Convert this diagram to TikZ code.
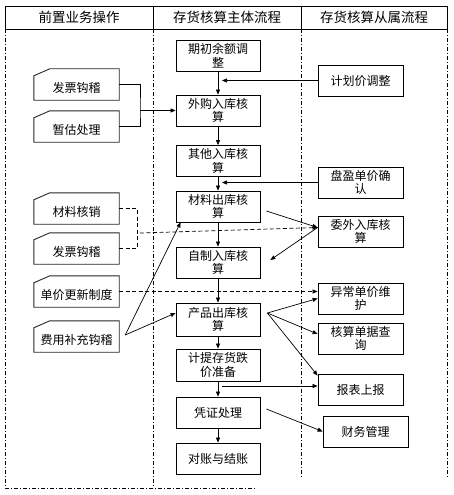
\documentclass[tikz,border=0pt]{standalone}
\usepackage{fontspec}
\setmainfont{Noto Sans CJK SC}
\usetikzlibrary{arrows.meta,calc}
\newcommand{\lowr}[1]{\raisebox{-3pt}[\height][\depth]{#1}}
\begin{document}
\begin{tikzpicture}[x=1pt,y=-1pt,
  box/.style={draw,line width=0.8pt,minimum width=84pt,minimum height=31pt,inner sep=1pt,align=center,font=\fontsize{12}{13.5}\selectfont},
  card/.style={minimum width=85pt,minimum height=31pt,inner sep=1pt,font=\fontsize{12}{13.5}\selectfont},
  hdr/.style={font=\fontsize{13.5}{15}\selectfont},
  arr/.style={line width=0.7pt,-{Triangle[length=5pt,width=4pt]}},
  ln/.style={line width=0.7pt},
  dsh/.style={line width=0.7pt,dash pattern=on 4pt off 2.5pt},
  frm/.style={line width=0.7pt,dash pattern=on 4pt off 2pt on 1pt off 2pt}]
\useasboundingbox (0,0) rectangle (453,495);
% header
\draw[line width=0.8pt] (5,6) rectangle (447,29);
\draw[line width=0.8pt] (153,6) -- (153,29) (301,6) -- (301,29);
\node[hdr] (h1) at (79,17.5) {前置业务操作};
\node[hdr] (h2) at (227,17.5) {存货核算主体流程};
\node[hdr] (h3) at (374,17.5) {存货核算从属流程};
% frame
\draw[frm] (5,29) -- (5,488) -- (255,488);
\draw[frm] (153,29) -- (153,488);
\draw[frm] (301,29) -- (301,478);
\draw[frm] (447,29) -- (447,478);
% middle column
\node[box] (qc) at (218,55.5) {期初余额调\\整};
\node[box] (wg) at (218,110.5) {外购入库核\\算};
\node[box] (qt) at (218,161) {其他入库核\\算};
\node[box] (clck) at (218,206.5) {材料出库核\\算};
\node[box] (zz) at (218,262.5) {自制入库核\\算};
\node[box,minimum height=33pt] (cpck) at (218,319.5) {产品出库核\\算};
\node[box,minimum height=32pt] (jt) at (218,365) {计提存货跌\\价准备};
\node[box] (pz) at (218,412.5) {凭证处理};
\node[box] (dz) at (218,458.5) {对账与结账};
% right column
\node[box,minimum width=85pt] (jhj) at (360.5,80.5) {计划价调整};
\node[box,minimum width=85pt] (py) at (360.5,182.5) {盘盈单价确\\认};
\node[box,minimum width=85pt] (ww) at (360.5,231.5) {委外入库核\\算};
\node[box,minimum width=85pt] (yc) at (360.5,298.5) {异常单价维\\护};
\node[box,minimum width=85pt] (hs) at (360.5,338.5) {核算单据查\\询};
\node[box,minimum width=85pt] (bb) at (360.5,389.5) {报表上报};
\node[box,minimum width=85pt] (cw) at (365.5,431.5) {财务管理};
% left column cards
\node[card] (fp1) at (76.5,84.5) {\lowr{发票钩稽}};
\node[card] (zg) at (76.5,126.5) {\lowr{暂估处理}};
\node[card] (clhx) at (76.5,208.5) {\lowr{材料核销}};
\node[card] (fp2) at (76.5,248.5) {\lowr{发票钩稽}};
\node[card] (djgx) at (76.5,291.5) {\lowr{单价更新制度}};
\node[card] (fybc) at (76.5,336.5) {\lowr{费用补充钩稽}};
\foreach \n in {fp1,zg,clhx,fp2,djgx,fybc}{
  \draw[line width=0.9pt,black!85] ([yshift=-7pt]\n.north west) -- ([xshift=16pt]\n.north west) -- (\n.north east) -- (\n.south east) -- (\n.south west) -- cycle;
}
% main vertical flow
\foreach \a/\b in {qc/wg,wg/qt,qt/clck,clck/zz,zz/cpck,cpck/jt,jt/pz,pz/dz}{
  \draw[arr] (\a.south) -- (\b.north);
}
% right-to-middle arrows
\draw[arr,shorten >=4pt] (jhj.west) -- (jhj.west -| qc.south);
\draw[arr,shorten >=4pt] (py.west) -- (py.west -| qt.south);
% left junction
\coordinate (jn1) at (140,110.5);
\draw[ln] (fp1.east) -| (jn1) |- (zg.east);
\draw[arr] (jn1) -- (wg.west);
% dashed from 材料核销 / 发票钩稽
\coordinate (dv) at (137,229);
\draw[dsh] (clhx.east) -| (dv) |- (fp2.east);
\coordinate (dj) at (140,233);
\coordinate (wwin) at ([yshift=4pt]ww.west);
\draw[dsh,-{Triangle[length=5pt,width=4pt]}] (dj) -- (wwin);
% 材料出库 -> 委外, 委外 -> 自制
\draw[arr] ([shift={(6pt,-4.5pt)}]clck.east) -- (wwin);
\draw[arr] (wwin) -- ([shift={(10pt,2.5pt)}]zz.east);
% 单价更新制度 dashed
\draw[dsh,-{Triangle[length=5pt,width=4pt]}] (djgx.east) -- (djgx.east -| yc.west);
% 费用补充钩稽
\coordinate (fs) at ([shift={(6pt,1.5pt)}]fybc.east);
\draw[arr] (fs) -- ([xshift=5pt]clck.south west);
\draw[arr] (fs) -- ([yshift=6.5pt]cpck.west);
% 产品出库 fan-out
\coordinate (cs) at ([shift={(7pt,6.5pt)}]cpck.east);
\draw[arr] (cs) -- (yc.west);
\draw[arr] (cs) -- ([yshift=4.5pt]hs.west);
\draw[arr] (cs) -- ([yshift=-2pt]bb.north west);
% 计提 -> 报表
\coordinate (jb) at (222,386);
\draw[arr] (jb) -- (jb -| bb.west);
% 凭证 -> 财务
\draw[arr] ([shift={(6pt,3.5pt)}]pz.east) -- (cw.west);
\end{tikzpicture}
\end{document}
